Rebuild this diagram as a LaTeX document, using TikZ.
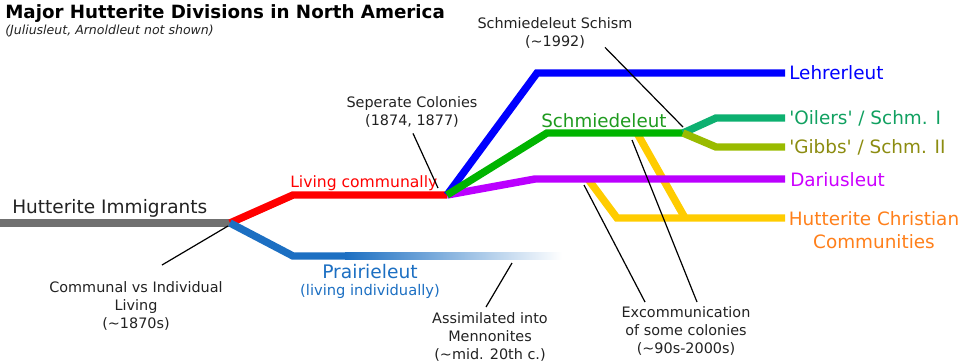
\documentclass[tikz,border=0pt]{standalone}
\usepackage{fontspec}
\setmainfont{DejaVu Sans}
\usepackage{tikz}
\usetikzlibrary{calc,positioning}
\definecolor{immigray}{HTML}{707070}
\definecolor{communred}{HTML}{FF0000}
\definecolor{prairieblue}{HTML}{1C6FC2}
\definecolor{lehrerblue}{HTML}{0000FF}
\definecolor{schmiedegreen}{HTML}{00B400}
\definecolor{schmiedetext}{HTML}{1E9A1E}
\definecolor{oilersgreen}{HTML}{0DB070}
\definecolor{oilerstext}{HTML}{10A060}
\definecolor{gibbsolive}{HTML}{99BB00}
\definecolor{gibbstext}{HTML}{8C8C10}
\definecolor{dariuspurple}{HTML}{BB00FF}
\definecolor{dariustext}{HTML}{CC00FF}
\definecolor{hccyellow}{HTML}{FFCC00}
\definecolor{hccorange}{HTML}{FF7F1A}
\definecolor{notegray}{HTML}{222222}
\tikzset{
  branch/.style={line width=5.6pt},
  leader/.style={draw=black, line width=0.9pt},
  note/.style={align=center, inner sep=0pt, text=notegray, font=\fontsize{10.8}{13.5}\selectfont},
  tag/.style={anchor=base west, inner sep=0pt, font=\fontsize{13.8}{16.5}\selectfont}
}

\begin{document}
\begin{tikzpicture}[x=0.75pt, y=-0.75pt]
\useasboundingbox (0,0) rectangle (960,362);

% title
\node[anchor=base west, inner sep=0pt, font=\bfseries\fontsize{13.7}{16}\selectfont] (title) at (5,18) {Major Hutterite Divisions in North America};
\node[anchor=base west, inner sep=0pt, text=notegray, font=\itshape\fontsize{9.4}{11}\selectfont] (subtitle) at (5,34) {(Juliusleut, Arnoldleut not shown)};

% points of the branches
\coordinate (start) at (0,223);
\coordinate (split) at (230,223);
\coordinate (commune) at (293,195);
\coordinate (colonies) at (447,195);
\coordinate (indiv) at (293,256);
\coordinate (fade) at (345,256);
\coordinate (fadeend) at (562,256);
\coordinate (lehrer) at (537,73);
\coordinate (lehrerend) at (785,73);
\coordinate (schmiede) at (547,133);
\coordinate (schism) at (683,133);
\coordinate (oilers) at (716,118);
\coordinate (oilersend) at (785,118);
\coordinate (gibbs) at (716,147);
\coordinate (gibbsend) at (785,147);
\coordinate (darius) at (535,179);
\coordinate (dariusend) at (785,179);
\coordinate (hccfromschm) at (637,133);
\coordinate (hccfromdar) at (588,179);
\coordinate (hccjoin) at (685,218);
\coordinate (hcc) at (617,218);
\coordinate (hccend) at (785,218);

% branches
\draw[branch, immigray] (start) -- (split);
\draw[branch, communred] (split) -- (commune) -- (colonies);
\draw[branch, prairieblue] (split) -- (indiv) -- (fade);
\shade[left color=prairieblue, right color=white] ($(fade)+(0,-3.75)$) rectangle ($(fadeend)+(0,3.75)$);
\draw[branch, hccyellow] (hccfromschm) -- (hccjoin);
\draw[branch, hccyellow] (hccfromdar) -- (hcc) -- (hccend);
\draw[branch, lehrerblue] (colonies) -- (lehrer) -- (lehrerend);
\draw[branch, dariuspurple] (colonies) -- (darius) -- (dariusend);
\draw[branch, schmiedegreen] (colonies) -- (schmiede) -- (schism);
\draw[branch, oilersgreen] (schism) -- (oilers) -- (oilersend);
\draw[branch, gibbsolive] (schism) -- (gibbs) -- (gibbsend);

% branch names
\node[anchor=base west, inner sep=0pt, font=\fontsize{13.9}{16}\selectfont, text=notegray] (immig) at (12,213) {Hutterite Immigrants};
\node[anchor=base west, inner sep=0pt, font=\fontsize{11.7}{14}\selectfont, text=communred] (living) at (290,187) {Living communally};
\node[anchor=base, inner sep=0pt, font=\fontsize{14}{16}\selectfont, text=prairieblue] (prairie) at (370,278) {Prairieleut};
\node[anchor=base, inner sep=0pt, font=\fontsize{11}{13}\selectfont, text=prairieblue] (prairiesub) at (370,295) {(living individually)};
\node[anchor=base west, inner sep=0pt, font=\fontsize{13.7}{16}\selectfont, text=schmiedetext] (schmname) at (541,127) {Schmiedeleut};
\node[tag, text=lehrerblue] (lehrername) at (789,79) {Lehrerleut};
\node[tag, text=oilerstext] (oilersname) at (789,124) {\textquotesingle Oilers\textquotesingle{} / Schm. I};
\node[tag, text=gibbstext] (gibbsname) at (789,153) {\textquotesingle Gibbs\textquotesingle{} / Schm. II};
\node[tag, text=dariustext] (dariusname) at (790,186) {Dariusleut};
\node[align=center, inner sep=0pt, font=\fontsize{13.8}{17}\selectfont, text=hccorange] (hccname) at (874,230) {Hutterite Christian\\Communities};

% notes
\node[note, anchor=north] (sepnote) at (412,96) {Seperate Colonies\\(1874, 1877)};
\node[note, anchor=north] (commnote) at (136,281) {Communal vs Individual\\Living\\(\textasciitilde1870s)};
\node[note, anchor=north] (assimnote) at (490,312) {Assimilated into\\Mennonites\\(\textasciitilde mid. 20th c.)};
\node[note, anchor=north] (schismnote) at (555,17) {Schmiedeleut Schism\\(\textasciitilde1992)};
\node[note, anchor=north] (excomnote) at (686,306) {Excommunication\\of some colonies\\(\textasciitilde90s-2000s)};

% leaders
\draw[leader] ($(sepnote.south)+(1,6)$) -- ($(colonies)+(-9,-7)$);
\draw[leader] ($(commnote.north)+(26,-16)$) -- ($(split)+(-2,3)$);
\draw[leader] ($(assimnote.north)+(-4,-5)$) -- ($(fade)+(167,7)$);
\draw[leader] ($(schismnote.south)+(50,-1)$) -- ($(schism)+(0,-6)$);
\draw[leader] ($(excomnote.north)+(-41,-4)$) -- ($(hccfromdar)+(-4,6)$);
\draw[leader] ($(excomnote.north)+(11,-4)$) -- ($(hccfromschm)+(-5,7)$);
\end{tikzpicture}
\end{document}
